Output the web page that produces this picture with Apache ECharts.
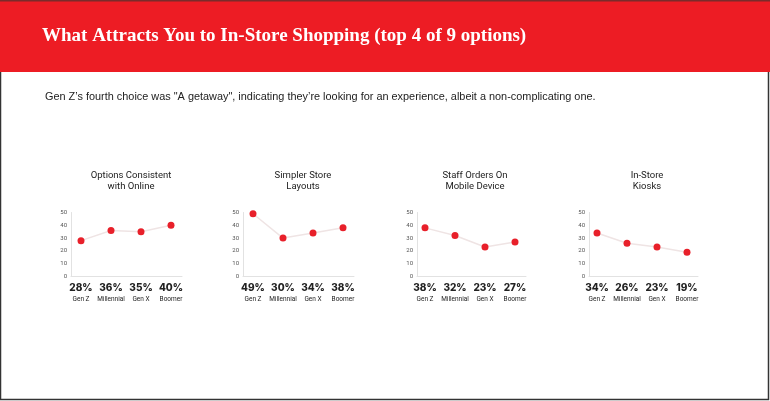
<!DOCTYPE html>
<html><head><meta charset="utf-8">
<script src="https://cdn.jsdelivr.net/npm/echarts@6/dist/echarts.min.js"></script>
<style>html,body{margin:0;padding:0;background:#fff}#c{width:770px;height:401px}</style>
</head><body><div id="c"></div>
<script>
const mainTitle = 'What Attracts You to In-Store Shopping (top 4 of 9 options)';
const subTitle = 'Gen Z\u2019s fourth choice was "A getaway", indicating they\u2019re looking for an experience, albeit a non-complicating one.';
const categories = ['Gen Z', 'Millennial', 'Gen X', 'Boomer'];
const panelTitles = ['Options Consistent\nwith Online', 'Simpler Store\nLayouts', 'Staff Orders On\nMobile Device', 'In-Store\nKiosks'];
const optionsConsistent = [28, 36, 35, 40];
const simplerLayouts = [49, 30, 34, 38];
const staffOrders = [38, 32, 23, 27];
const inStoreKiosks = [34, 26, 23, 19];
const yTickMin = 0, yTickMax = 50, yTickStep = 10;

const seriesData = [optionsConsistent, simplerLayouts, staffOrders, inStoreKiosks];
const RED = '#E8202A';
const chart = echarts.init(document.getElementById('c'), null, {renderer: 'canvas'});

const grids = [], xAxes = [], yAxes = [], series = [], titles = [];
const pointLeft = [81, 253, 425, 597];
const frameLeft = [71, 243, 417, 589];
const gridTop = 212.5, gridH = 64;
seriesData.forEach((vals, k) => {
  grids.push({left: frameLeft[k], top: gridTop, width: pointLeft[k] + 101 - frameLeft[k], height: gridH});
  xAxes.push({gridIndex: 2*k, type: 'value', min: 0, max: 1, axisLine: {show: true, lineStyle: {color: '#e2e2e2', width: 1}},
    axisTick: {show: false}, axisLabel: {show: false}, splitLine: {show: false}});
  yAxes.push({gridIndex: 2*k, type: 'value', min: yTickMin, max: yTickMax, interval: yTickStep,
    axisLine: {show: true, lineStyle: {color: '#e2e2e2', width: 1}}, axisTick: {show: false}, splitLine: {show: false},
    axisLabel: {fontSize: 6, color: '#555', margin: 4, fontFamily: 'Roboto'}});
  grids.push({left: pointLeft[k], top: gridTop, width: 90, height: gridH});
  xAxes.push({gridIndex: 2*k+1, type: 'category', data: categories, boundaryGap: false,
    axisLine: {show: false}, axisTick: {show: false}, splitLine: {show: false},
    axisLabel: {margin: 5, interval: 0,
      formatter: (v, i) => '{p|' + vals[i] + '%}\n{g|' + v + '}',
      rich: {p: {fontSize: 10, fontWeight: 800, color: '#222', fontFamily: 'Inter', lineHeight: 13},
             g: {fontSize: 6.5, color: '#222', fontFamily: 'Roboto', lineHeight: 9}}}});
  yAxes.push({gridIndex: 2*k+1, type: 'value', min: yTickMin, max: yTickMax, interval: yTickStep, show: false});
  series.push({type: 'line', xAxisIndex: 2*k+1, yAxisIndex: 2*k+1, data: vals, symbol: 'circle', symbolSize: 7,
    lineStyle: {color: '#efe4e4', width: 1.5}, itemStyle: {color: RED}, silent: true, animation: false});
  titles.push({text: panelTitles[k], left: pointLeft[k] + 45, top: 165, textAlign: 'center',
    textStyle: {fontSize: 9.5, fontWeight: 'normal', color: '#222', fontFamily: 'Roboto', lineHeight: 11}});
});
titles.push({text: mainTitle, left: 37, top: 22, textStyle: {fontSize: 19, fontWeight: 'bold', color: '#fff', fontFamily: 'Liberation Serif'}});
titles.push({text: subTitle, left: 40, top: 86, textStyle: {fontSize: 10.9, fontWeight: 'normal', color: '#222', fontFamily: 'Liberation Sans'}});

chart.setOption({
  animation: false,
  graphic: [
    {type: 'rect', z: -10, shape: {x: 0.5, y: 0.5, width: 768, height: 399}, style: {fill: '#fff', stroke: '#333', lineWidth: 1.5}},
    {type: 'rect', z: -5, shape: {x: 0, y: 0, width: 770, height: 72}, style: {fill: '#ED1C24'}},
    {type: 'rect', z: -4, shape: {x: 0, y: 0, width: 770, height: 1.5}, style: {fill: '#7a2b2b'}}
  ],
  title: titles, grid: grids, xAxis: xAxes, yAxis: yAxes, series: series
});
</script></body></html>
